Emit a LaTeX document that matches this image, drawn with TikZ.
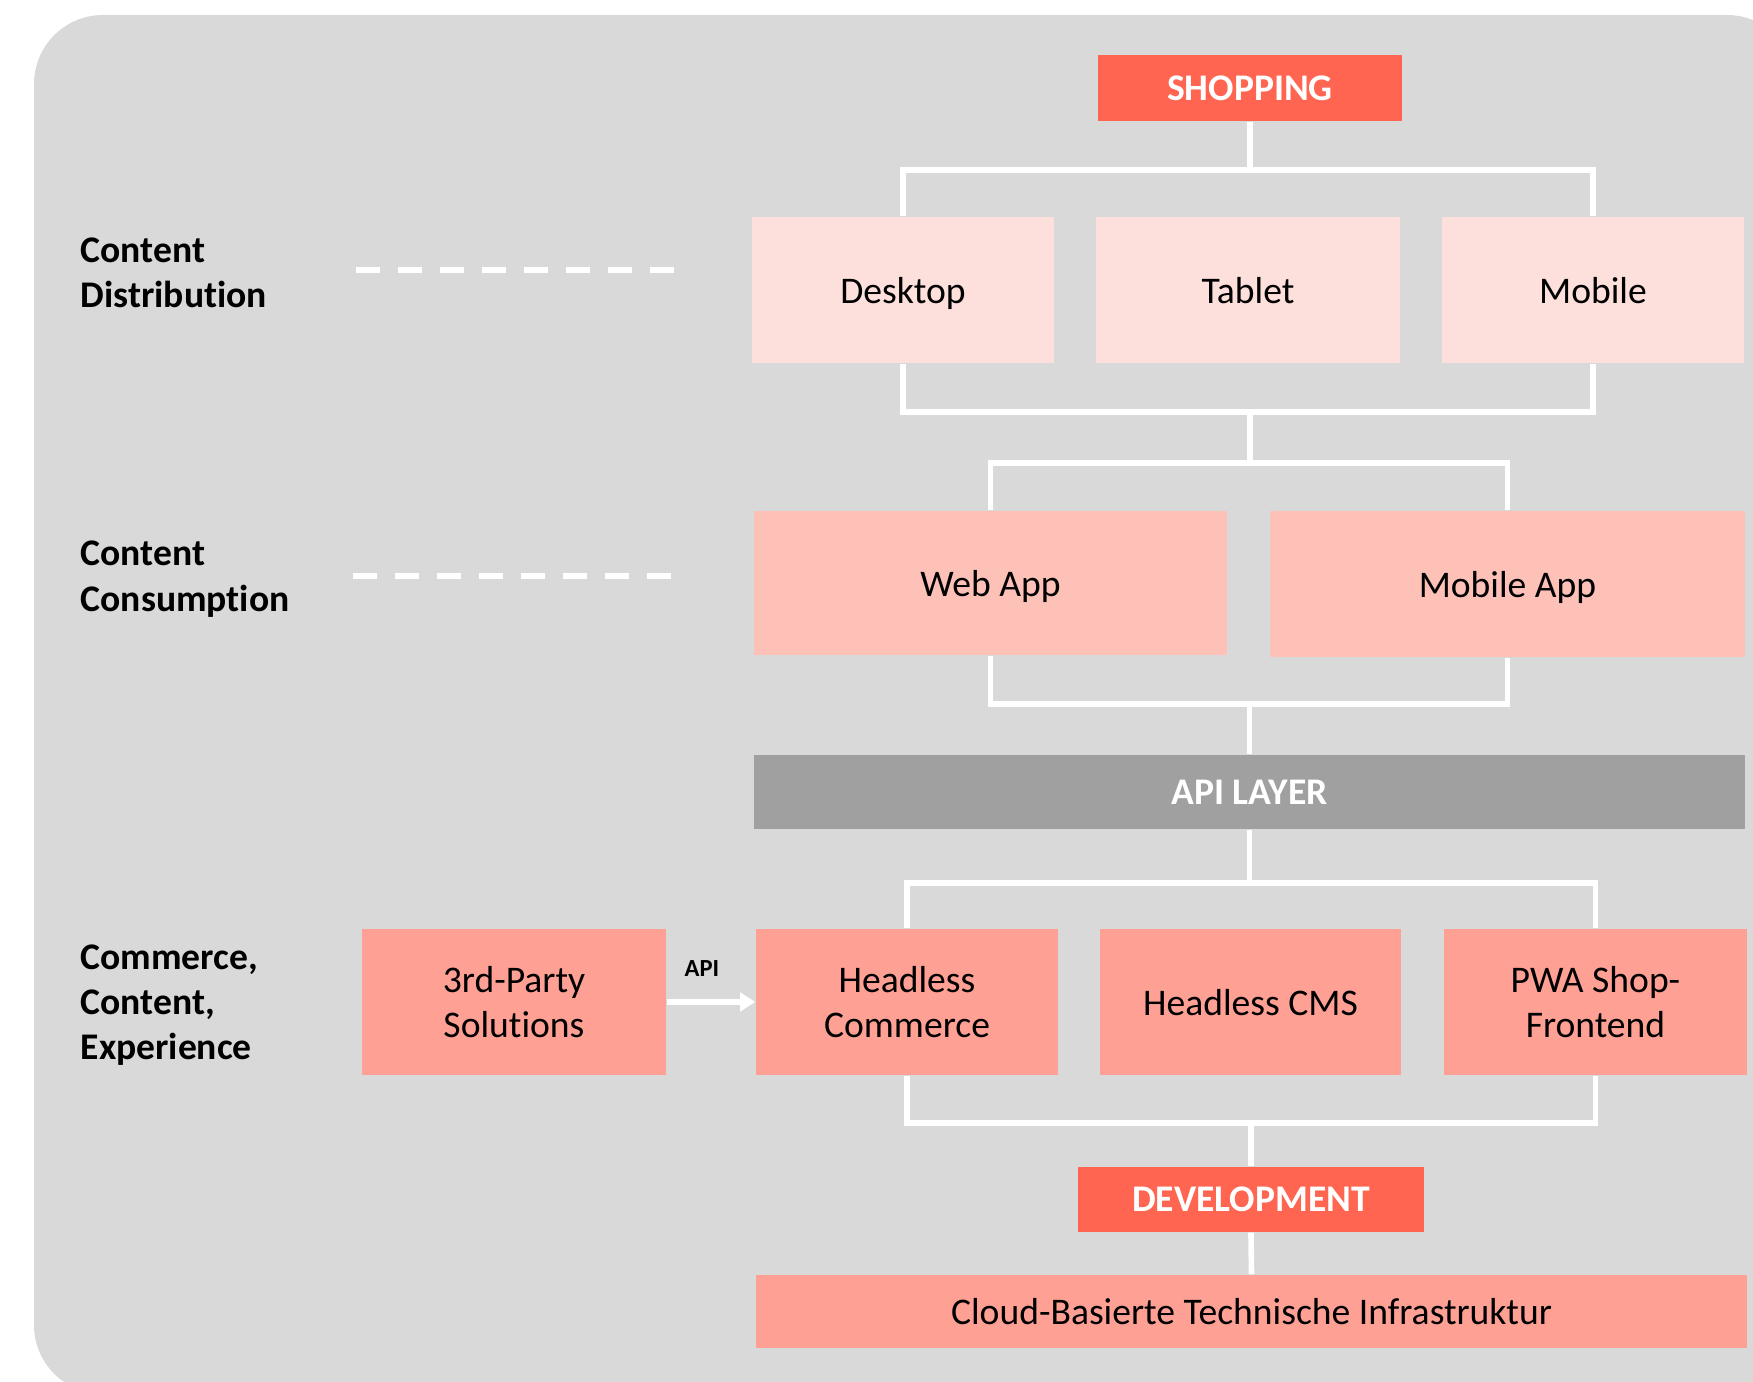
\documentclass[tikz,border=0pt]{standalone}
\usepackage{fontspec}
\setmainfont{Carlito}[RawFeature={-liga}]
\usepackage{tikz}
\usetikzlibrary{arrows.meta,positioning}
\definecolor{Fondo}{HTML}{D9D9D9}
\definecolor{Coral}{HTML}{FF6550}
\definecolor{RosaClaro}{HTML}{FDDFDB}
\definecolor{Rosa}{HTML}{FEC1B8}
\definecolor{Salmon}{HTML}{FEA094}
\definecolor{GrisApi}{HTML}{A0A0A0}
\newcommand{\cuerpo}{\fontsize{10.7}{12.9}\selectfont}

\begin{document}
\begin{tikzpicture}[
  x=0.1mm,y=-0.1mm,
  every node/.style={font=\cuerpo},
  tile/.style={inner sep=0pt,align=center,minimum height=14.6mm},
  single/.style={text height=0.9em,text depth=0.16em},
  head/.style={fill=Coral,text=white,font=\cuerpo\bfseries,inner sep=0pt},
  wire/.style={draw=white,line width=1.6pt},
  guide/.style={draw=white,line width=1.7pt,dash pattern=on 6.83pt off 5.12pt},
  lbl/.style={anchor=west,align=left,inner sep=0pt,font=\cuerpo\bfseries}
]
  \clip (0,0) rectangle (1753,1382);
  \fill[Fondo,rounded corners=6.9mm] (34,15) rectangle (1796,1394);

  % row labels and dashed guides
  \node[lbl] (lDist) at (80,273) {Content\\Distribution};
  \node[lbl] (lCons) at (80,579) {Content\\Consumption};
  \node[lbl] (lComm) at (80,1005) {Commerce,\\Content,\\Experience};
  \coordinate (g1a) at (356,270);
  \coordinate (g1b) at (674,270);
  \coordinate (g2a) at (353,576);
  \coordinate (g2b) at (671,576);
  \draw[guide] (g1a) -- (g1b);
  \draw[guide] (g2a) -- (g2b);

  % shopping and devices
  \node[head,minimum width=30.4mm,minimum height=6.6mm] (shop) at (1250,88) {SHOPPING};
  \node[tile,single,fill=RosaClaro,minimum width=30.2mm] (desk) at (903,290) {Desktop};
  \node[tile,single,fill=RosaClaro,minimum width=30.4mm] (tab) at (1248,290) {Tablet};
  \node[tile,single,fill=RosaClaro,minimum width=30.2mm] (mob) at (1593,290) {Mobile};

  \coordinate (b1) at (1250,170);
  \draw[wire] (shop.south) -- (shop.south |- b1);
  \draw[wire] (desk.north) -- (desk.north |- b1) -- (mob.north |- b1) -- (mob.north);

  % apps
  \node[tile,single,fill=Rosa,minimum width=47.3mm,minimum height=14.4mm] (web) at (990.5,583) {Web App};
  \node[tile,single,fill=Rosa,minimum width=47.5mm] (mapp) at (1507.5,584) {Mobile App};

  \coordinate (b2) at (1250,412);
  \coordinate (b3) at (1250,463);
  \draw[wire] (desk.south) -- (desk.south |- b2) -- (mob.south |- b2) -- (mob.south);
  \draw[wire] (b2) -- (b3);
  \draw[wire] (web.north) -- (web.north |- b3) -- (mapp.north |- b3) -- (mapp.north);

  % api layer
  \node[head,fill=GrisApi,minimum width=99.1mm,minimum height=7.4mm] (api) at (1249.5,792) {API LAYER};

  \coordinate (b4) at (1250,704);
  \draw[wire] (web.south) -- (web.south |- b4) -- (mapp.south |- b4) -- (mapp.south);
  \draw[wire] (api.north |- b4) -- (api.north);

  % commerce, content, experience
  \node[tile,fill=Salmon,minimum width=30.4mm] (third) at (514,1002) {3rd-Party\\Solutions};
  \node[tile,fill=Salmon,minimum width=30.2mm] (hcom) at (907,1002) {Headless\\Commerce};
  \node[tile,single,fill=Salmon,minimum width=30.1mm] (hcms) at (1250.5,1002) {Headless CMS};
  \node[tile,fill=Salmon,minimum width=30.3mm] (pwa) at (1595.5,1002) {PWA Shop-\\Frontend};

  \coordinate (b5) at (1251,883);
  \draw[wire] (api.south) -- (api.south |- b5);
  \draw[wire] (hcom.north) -- (hcom.north |- b5) -- (pwa.north |- b5) -- (pwa.north);

  \draw[wire,-{Triangle[length=4.3pt,width=5.2pt]}] (third.east) -- (hcom.west);
  \node[font=\fontsize{7}{8}\selectfont\bfseries] (apiTag) at (702,969) {API};

  % development and infrastructure
  \node[head,minimum width=34.6mm,minimum height=6.5mm] (dev) at (1251,1199.5) {DEVELOPMENT};
  \node[tile,single,fill=Salmon,minimum width=99.1mm,minimum height=7.3mm] (cloud) at (1251.5,1311.5)
    {Cloud-Basierte Technische Infrastruktur};

  \coordinate (b6) at (1251,1123);
  \draw[wire] (hcom.south) -- (hcom.south |- b6) -- (pwa.south |- b6) -- (pwa.south);
  \draw[wire] (dev.north |- b6) -- (dev.north);
  \draw[wire] (dev.south) -- (cloud.north);
\end{tikzpicture}
\end{document}
